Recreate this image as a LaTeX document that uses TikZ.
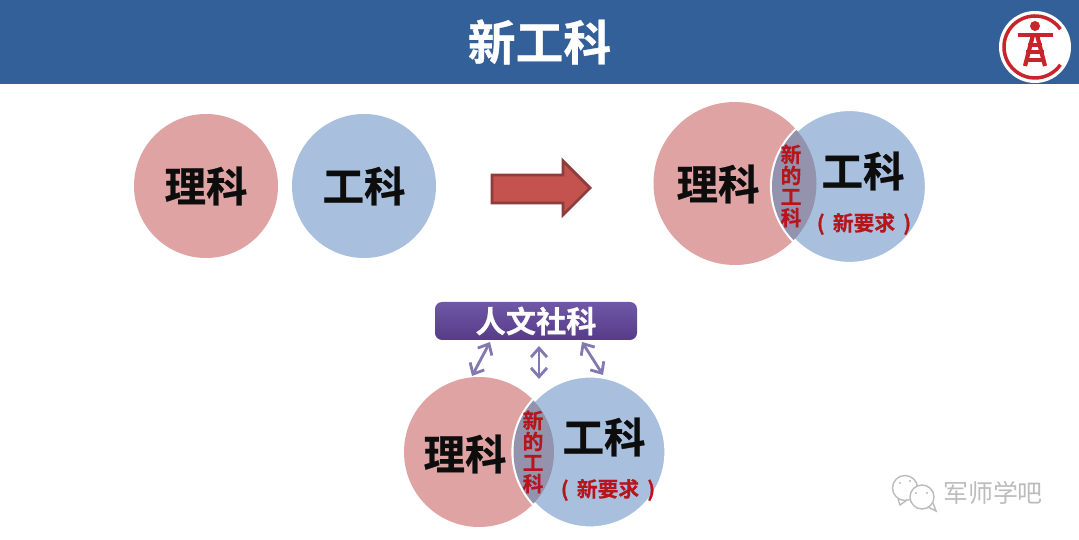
\documentclass[tikz,border=0pt]{standalone}
\usepackage{fontspec}
\usepackage{tikz}
\usetikzlibrary{arrows.meta}
\newfontfamily\cjk{Noto Sans CJK SC}[BoldFont={Noto Sans CJK SC Bold},BoldFeatures={FakeBold=0.6}]
\definecolor{bannerblue}{HTML}{34609A}
\definecolor{sciencered}{HTML}{DFA3A3}
\definecolor{techblue}{HTML}{A8C0DE}
\definecolor{lensgray}{HTML}{9393AE}
\definecolor{arrowred}{HTML}{C4524F}
\definecolor{arrowedge}{HTML}{8C3D3C}
\definecolor{boxtop}{HTML}{6F58A6}
\definecolor{boxbottom}{HTML}{573B88}
\definecolor{linkpurple}{HTML}{8279B0}
\definecolor{logored}{HTML}{C8242B}
\definecolor{textred}{HTML}{B5161C}
\definecolor{markgray}{HTML}{BCBCBC}
\tikzset{
    venn/.style={circle,inner sep=0pt,outer sep=0pt,minimum size=#1},
    bigword/.style={font=\fontsize{11.8}{12}\cjk\bfseries,text=black!95,inner sep=0pt},
    smallword/.style={font=\fontsize{5.9}{6}\cjk\bfseries,text=textred,inner sep=0pt},
    link/.style={{Straight Barb[length=0.9mm,width=1.6mm]}-{Straight Barb[length=0.9mm,width=1.6mm]},linkpurple,line width=0.8pt}
}
\begin{document}
\begin{tikzpicture}
    \useasboundingbox (0,0) rectangle (10.79,5.40);
    \fill[white] (0,0) rectangle (10.79,5.40);

    \node (banner) at (5.395,4.98) [fill=bannerblue,minimum width=10.79cm,minimum height=0.84cm,inner sep=0pt,outer sep=0pt,
        text=white,font=\fontsize{13.6}{14}\cjk\bfseries] {新工科};

    % logo
    \node (logo) at (10.35,4.93) [circle,fill=white,inner sep=0pt,minimum size=0.72cm] {};
    \draw[logored,line width=1pt] ([shift={(35:0.31)}]logo.center) arc (35:325:0.31);
    \fill[logored] (10.35,5.14) circle (0.05);
    \fill[logored] (10.18,5.03) rectangle (10.53,5.07);
    \draw[logored,line width=1.2pt] (10.33,5.05) -- (10.25,4.74) (10.37,5.05) -- (10.45,4.74);
    \foreach \y/\w in {4.95/0.07, 4.88/0.09, 4.80/0.10}
    {
        \draw[logored,line width=0.9pt] (10.35-\w,\y) -- (10.35+\w,\y);
    }

    % first row
    \node (science) at (2.06,3.54) [venn=1.44cm,fill=sciencered] {};
    \node (tech) at (3.64,3.54) [venn=1.44cm,fill=techblue] {};
    \node at (science) [bigword] {理科};
    \node at (tech) [bigword] {工科};

    \draw[draw=arrowedge,fill=arrowred,line width=0.8pt] (4.92,3.37) -- (5.63,3.37) -- (5.63,3.25)
        -- (5.90,3.52) -- (5.63,3.79) -- (5.63,3.65) -- (4.92,3.65) -- cycle;

    % the two overlapping pairs
    \foreach \n/\xa/\ya/\ra/\xb/\yb/\rb/\xs/\ys/\xt/\yt/\xl/\yl/\xq/\yq in {
        up/7.35/3.565/0.815/8.495/3.535/0.775/7.18/3.56/8.63/3.69/7.91/3.54/8.64/3.16,
        low/4.79/0.88/0.75/5.90/0.88/0.765/4.65/0.86/6.04/1.03/5.33/0.88/6.08/0.50}
    {
        \node (red\n) at (\xa,\ya) [venn=2*\ra cm,fill=sciencered] {};
        \node (blue\n) at (\xb,\yb) [venn=2*\rb cm,fill=techblue,draw=white,line width=1.2pt] {};
        \begin{scope}
            \clip (\xa,\ya) circle (\ra);
            \fill[lensgray] (\xb,\yb) circle (\rb);
        \end{scope}
        \node at (\xs,\ys) [bigword] {理科};
        \node at (\xt,\yt) [bigword] {工科};
        \node at (\xl,\yl) [smallword,align=center] {新\\的\\工\\科};
        \node at (\xq,\yq) [smallword] {(\, 新要求 \,)};
    }

    % box and its links
    \node (humanities) at (5.36,2.19) [rectangle,rounded corners=2pt,top color=boxtop,bottom color=boxbottom,minimum width=2.02cm,minimum height=0.38cm,
        inner sep=0pt,outer sep=0pt,text=white,font=\fontsize{8.6}{9}\cjk\bfseries] {人文社科};
    \coordinate (topa) at (4.90,1.98);
    \coordinate (topb) at (5.39,1.94);
    \coordinate (topc) at (5.82,1.98);
    \coordinate (bota) at (4.72,1.64);
    \coordinate (botb) at (5.39,1.61);
    \coordinate (botc) at (6.03,1.65);
    \foreach \c in {a,b,c}
    {
        \draw[link] (top\c) -- (bot\c);
    }

    % watermark
    \node (bubbleback) at (9.05,0.52) [circle,draw=markgray,line width=0.4pt,minimum size=0.25cm,inner sep=0pt] {};
    \draw[markgray,line width=0.4pt] (8.98,0.41) -- (9.00,0.35) -- (9.07,0.40);
    \node (bubblefront) at (9.22,0.43) [circle,draw=markgray,fill=white,line width=0.4pt,minimum size=0.24cm,inner sep=0pt] {};
    \draw[markgray,line width=0.4pt] (9.28,0.33) -- (9.36,0.29) -- (9.33,0.37);
    \foreach \x/\y in {9.00/0.57, 9.10/0.59, 9.16/0.47, 9.27/0.47}
    {
        \fill[markgray] (\x,\y) circle (0.012);
    }
    \node (markname) at (9.93,0.47) [text=markgray,inner sep=0pt,font=\fontsize{7.1}{8}\cjk] {军师学吧};
\end{tikzpicture}
\end{document}
